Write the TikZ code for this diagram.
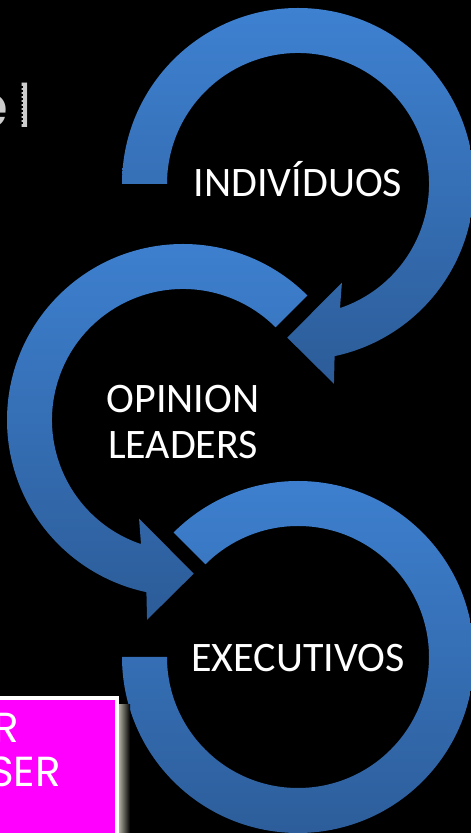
\documentclass[tikz,border=0pt]{standalone}
\usepackage{fontspec}
\setmainfont{Carlito}
\newfontfamily\geofont{Poppins}
\definecolor{ringtop}{RGB}{62,129,209}
\definecolor{ringbot}{RGB}{44,92,152}
\definecolor{boxpink}{RGB}{255,0,255}
\definecolor{titlegray}{RGB}{205,205,205}
\definecolor{shadowgray}{RGB}{175,172,160}
\begin{document}
\begin{tikzpicture}[x=1pt,y=1pt,
  ring/.style={top color=ringtop, bottom color=ringbot, draw=none},
  stage/.style={text=white, font=\fontsize{42}{46}\selectfont, inner sep=0pt, align=center},
  boxtext/.style={text=white, font=\geofont\fontsize{42}{46}\selectfont, inner sep=0pt, anchor=base east}]
\useasboundingbox (0,0) rectangle (471,833);
\fill[black] (0,0) rectangle (471,833);
\clip (0,0) rectangle (471,833);

% partial title letters, top left
\node[anchor=base east, inner sep=0pt, text=titlegray,
      font=\geofont\fontsize{60}{60}\selectfont] (title) at (32,705) {e\kern8pt l};
\draw[black, line width=2.6pt, dash pattern=on 2.4pt off 1.6pt] (21.6,709) -- (21.6,747);

% first ring: clockwise from the left, head at the bottom
\begin{scope}[shift={(298,649)}]
  \path[ring] (180:176) arc[start angle=180, end angle=-78, radius=176pt]
    -- (-79.8:203) -- (-94:154) -- (-66:108) -- (-71.3:131)
    arc[start angle=-71.3, end angle=180, radius=131pt] -- cycle;
\end{scope}

% second ring: counter-clockwise from the upper right, head at the bottom
\begin{scope}[shift={(183,413)}]
  \path[ring] (45:176) arc[start angle=45, end angle=258, radius=176pt]
    -- (259.8:203) -- (274:154) -- (246:108) -- (251.3:131)
    arc[start angle=251.3, end angle=45, radius=131pt] -- cycle;
\end{scope}

% third ring: clockwise from the upper left, flat end on the left
\begin{scope}[shift={(298,176)}]
  \path[ring] (135:176) arc[start angle=135, end angle=-180, radius=176pt]
    -- (180:131) arc[start angle=-180, end angle=135, radius=131pt] -- cycle;
\end{scope}

\node[stage, anchor=base] (ind) at (298,636) {INDIVÍDUOS};
\node[stage] (op) at (183,411) {OPINION\\LEADERS};
\node[stage, anchor=base] (exe) at (298,161) {EXECUTIVOS};

% magenta box, bottom left, with a soft shadow on its right
\shade[left color=shadowgray, right color=black] (119,-5) rectangle (130,128);
\draw[white, line width=4pt, fill=boxpink] (-10,135) rectangle (117,-10);
\node[boxtext] (boxa) at (19,90) {R};
\node[boxtext] (boxb) at (61,46) {SER};
\end{tikzpicture}
\end{document}
